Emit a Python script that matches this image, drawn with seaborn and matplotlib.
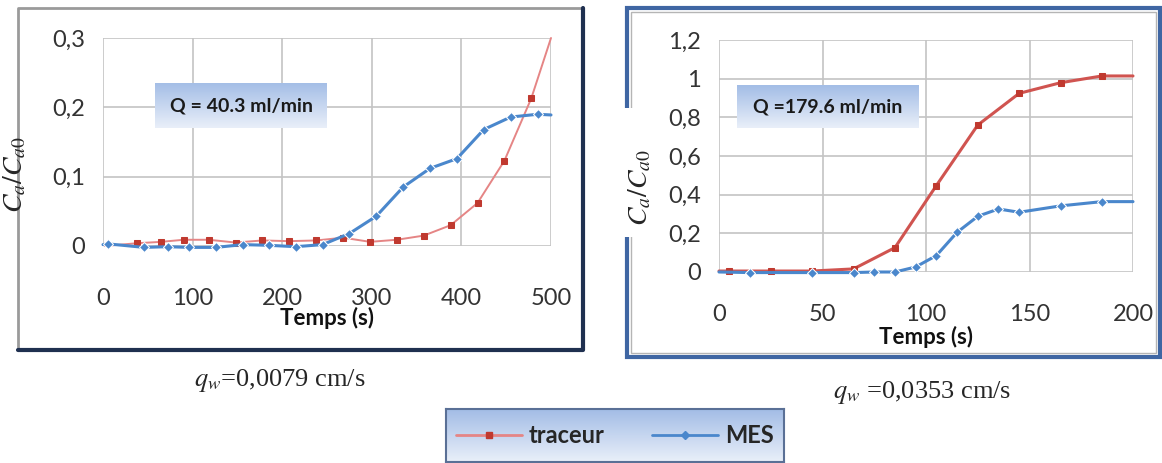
import numpy as np
import pandas as pd
import matplotlib
matplotlib.use("Agg")
import matplotlib.pyplot as plt
import seaborn as sns
from matplotlib.colors import LinearSegmentedColormap
from matplotlib.lines import Line2D
from matplotlib.patches import Rectangle

# left chart, Q = 40.3 ml/min
left_trac_t = [2, 38, 65, 90, 118, 148, 178, 208, 238, 268, 298, 328, 358, 388, 418, 448, 478, 500]
left_trac = [0.0, 0.004, 0.006, 0.009, 0.009, 0.005, 0.008, 0.007, 0.008, 0.012, 0.006,
             0.009, 0.015, 0.030, 0.062, 0.123, 0.213, 0.300]
left_mes_t = [0, 6, 46, 72, 96, 126, 156, 185, 215, 245, 275, 305, 335, 365, 395, 425, 455, 485, 500]
left_mes = [0.002, 0.003, -0.002, -0.001, -0.002, -0.002, 0.002, 0.001, -0.001, 0.002, 0.018,
            0.043, 0.085, 0.112, 0.126, 0.168, 0.186, 0.190, 0.189]

# right chart, Q = 179.6 ml/min
right_trac_t = [0, 5, 25, 45, 65, 85, 105, 125, 145, 165, 185, 200]
right_trac = [0.005, 0.005, 0.005, 0.005, 0.016, 0.126, 0.447, 0.760, 0.924, 0.979, 1.014, 1.014]
right_mes_t = [0, 15, 45, 65, 75, 85, 95, 105, 115, 125, 135, 145, 165, 185, 200]
right_mes = [0.0, -0.003, -0.003, -0.003, 0.0, 0.0, 0.026, 0.085, 0.205, 0.288, 0.326, 0.309,
             0.342, 0.364, 0.364]

left_xticks = [0, 100, 200, 300, 400, 500]
left_yticks = [0, 0.1, 0.2, 0.3]
left_ylabels = ["0", "0,1", "0,2", "0,3"]
right_xticks = [0, 50, 100, 150, 200]
right_yticks = [0, 0.2, 0.4, 0.6, 0.8, 1.0, 1.2]
right_ylabels = ["0", "0,2", "0,4", "0,6", "0,8", "1", "1,2"]

sns.set_style("white")
plt.rcParams["font.family"] = ["Lato", "DejaVu Sans"]
plt.rcParams["mathtext.fontset"] = "stix"

W, H = 1162, 463
fig = plt.figure(figsize=(W / 100, H / 100), dpi=100)


def px(x0, y0, x1, y1):
    return [x0 / W, 1 - y1 / H, (x1 - x0) / W, (y1 - y0) / H]


def fline(xs, ys, **kw):
    fig.add_artist(Line2D([x / W for x in xs], [1 - y / H for y in ys],
                          transform=fig.transFigure, **kw))


def frect(x0, y0, x1, y1, **kw):
    fig.add_artist(Rectangle((x0 / W, 1 - y1 / H), (x1 - x0) / W, (y1 - y0) / H,
                             transform=fig.transFigure, **kw))


blue_cm = LinearSegmentedColormap.from_list("bx", ["#a3bde6", "#e9eff9"])


def grad_box(rect, edge=None):
    bax = fig.add_axes(rect)
    grad = np.linspace(0, 1, 64).reshape(-1, 1)
    bax.imshow(grad, aspect="auto", cmap=blue_cm, extent=[0, 1, 0, 1], origin="upper")
    bax.set_xticks([])
    bax.set_yticks([])
    for s in bax.spines.values():
        s.set_visible(edge is not None)
        if edge:
            s.set_color(edge)
            s.set_linewidth(1.5)
    return bax


# panel frames
fline([18, 18, 583], [350, 8, 8], color="#9a9a9a", lw=2)
fline([583, 583, 18], [8, 350, 350], color="#1f3050", lw=3)
frect(627, 8, 1160, 357, fill=False, edgecolor="#3f66a3", lw=3)
frect(631, 12, 1156, 353, fill=False, edgecolor="#b5b5b5", lw=1)

grid_c = "#c4c4c4"


def draw(rect, t1, y1, t2, y2, xlim, ylim, xt, yt, ylabs, red, red_lw, xpad, lpad):
    ax = fig.add_axes(rect)
    df = pd.concat([
        pd.DataFrame({"t": t1, "c": y1, "serie": "traceur"}),
        pd.DataFrame({"t": t2, "c": y2, "serie": "MES"}),
    ])
    sns.lineplot(data=df, x="t", y="c", hue="serie", style="serie", ax=ax,
                 palette={"traceur": red, "MES": "#4a87cc"},
                 markers={"traceur": "s", "MES": "D"}, dashes=False,
                 markersize=5, markevery=slice(1, -1), legend=False,
                 sort=False, estimator=None)
    for ln in ax.lines:
        ln.set_clip_on(False)
    ax.lines[0].set_linewidth(red_lw)
    ax.lines[0].set_markerfacecolor("#c0392f")
    ax.lines[0].set_markeredgecolor("#c0392f")
    ax.lines[1].set_linewidth(2.2)
    ax.set_xlim(*xlim)
    ax.set_ylim(*ylim)
    ax.set_xticks(xt)
    ax.set_yticks(yt)
    ax.set_yticklabels(ylabs)
    ax.grid(True, color=grid_c, lw=1.2)
    ax.set_axisbelow(True)
    for s in ax.spines.values():
        s.set_visible(False)
    ax.tick_params(axis="y", length=7, color=grid_c, width=1.2, pad=6, labelsize=17, labelcolor="#333333")
    ax.tick_params(axis="x", length=0, pad=xpad, labelsize=17, labelcolor="#333333")
    ax.set_xlabel("Temps (s)", fontsize=16, fontweight="bold", labelpad=lpad, color="#111111")
    ax.set_ylabel("")
    return ax


draw(px(103, 38, 551, 246), left_trac_t, left_trac, left_mes_t, left_mes,
     (0, 500), (0, 0.3), left_xticks, left_yticks, left_ylabels, "#e58585", 1.4, 30, -1)
draw(px(719, 40, 1133, 272), right_trac_t, right_trac, right_mes_t, right_mes,
     (0, 200), (0, 1.2), right_xticks, right_yticks, right_ylabels, "#d05450", 2.2, 23, 1)

# y label patches
frect(0, 93, 42, 262, facecolor="white", edgecolor="none")
frect(620, 108, 660, 237, facecolor="white", edgecolor="none")
fig.text(15 / W, 1 - 175 / H, r"$C_a/C_{a0}$", rotation=90, ha="center", va="center", fontsize=20)
fig.text(640 / W, 1 - 188 / H, r"$C_a/C_{a0}$", rotation=90, ha="center", va="center", fontsize=20)

# Q boxes
b1 = grad_box(px(155, 83, 327, 128))
b1.text(0.5, 0.5, "Q = 40.3 ml/min", ha="center", va="center", fontsize=14,
        fontweight="bold", color="#1a1a1a", transform=b1.transAxes)
b2 = grad_box(px(737, 85, 919, 128))
b2.text(0.5, 0.5, "Q =179.6 ml/min", ha="center", va="center", fontsize=14,
        fontweight="bold", color="#1a1a1a", transform=b2.transAxes)

# captions
fig.text(280 / W, 1 - 380 / H, r"$q_w$=0,0079 cm/s", ha="center", va="center",
         fontsize=19, family="Liberation Serif")
fig.text(922 / W, 1 - 392 / H, r"$q_w$ =0,0353 cm/s", ha="center", va="center",
         fontsize=19, family="Liberation Serif")

# legend
lax = grad_box(px(446, 409, 784, 462), edge="#5a7096")
handles = [
    Line2D([], [], color="#e58585", lw=2, marker="s", markersize=4,
           markerfacecolor="#c0392f", markeredgecolor="#c0392f"),
    Line2D([], [], color="#4a87cc", lw=2, marker="D", markersize=4),
]
leg = lax.legend(handles, ["traceur", "MES"], loc="center", ncol=2, frameon=False,
                 handlelength=2.8, handletextpad=0.3, columnspacing=2.0,
                 prop={"size": 17, "weight": "bold"})

fig.savefig("out.png", dpi=100)
